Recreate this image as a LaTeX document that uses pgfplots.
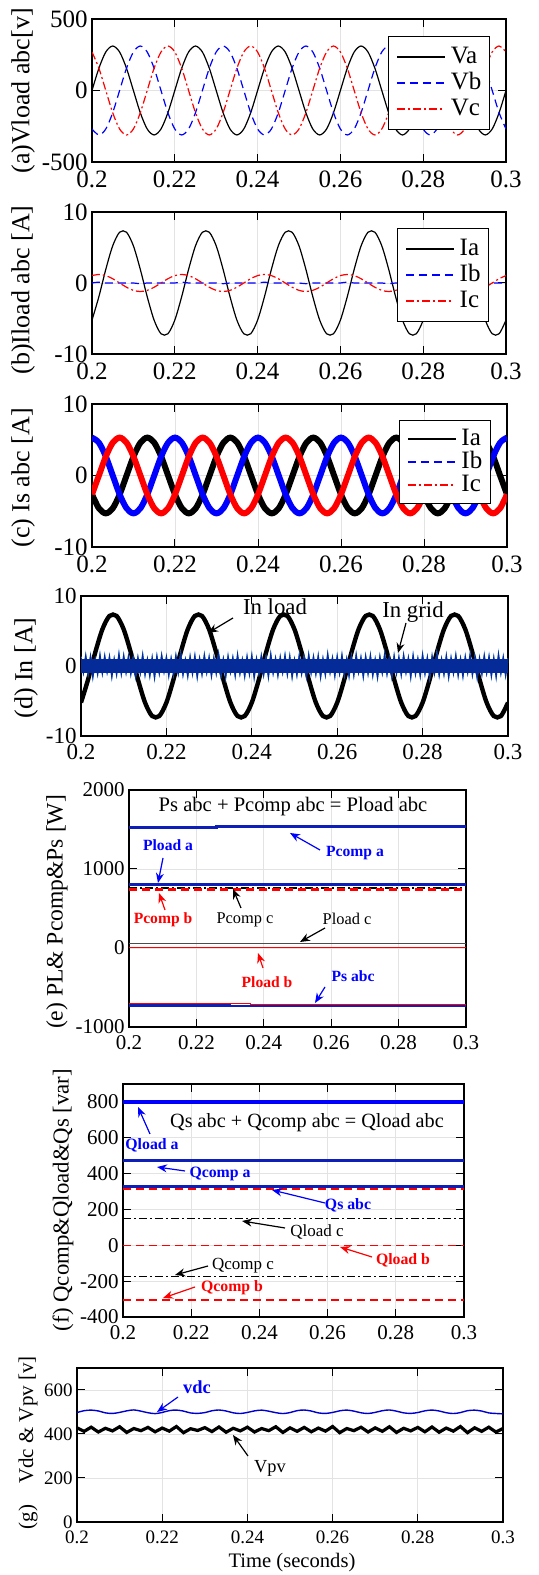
\documentclass[border=0pt]{standalone}
\usepackage{fontspec}
\setmainfont{Liberation Serif}
\usepackage{pgfplots}
\usepackage{pgfplotstable}
\pgfplotsset{compat=1.18}
\usetikzlibrary{arrows.meta}
\newcommand\fs[1]{\fontsize{#1}{#1}\selectfont}
\definecolor{mblue}{rgb}{0,0,1}
\definecolor{mred}{rgb}{1,0,0}
\definecolor{navy}{rgb}{0.05,0.12,0.72}
\definecolor{gridcore}{rgb}{0.02,0.17,0.60}
\definecolor{gridedge}{rgb}{0.25,0.58,0.92}

% x is electrical angle in degrees: 0..1800 <-> 0.2..0.3 s
\pgfplotstableread{
x Va Vb Vc
0 0 -269.3 269.3
30 155.5 -311 155.5
60 269.3 -269.3 0
90 311 -155.5 -155.5
120 269.3 0 -269.3
150 155.5 155.5 -311
180 0 269.3 -269.3
210 -155.5 311 -155.5
240 -269.3 269.3 0
270 -311 155.5 155.5
300 -269.3 0 269.3
330 -155.5 -155.5 311
360 0 -269.3 269.3
390 155.5 -311 155.5
420 269.3 -269.3 0
450 311 -155.5 -155.5
480 269.3 0 -269.3
510 155.5 155.5 -311
540 0 269.3 -269.3
570 -155.5 311 -155.5
600 -269.3 269.3 0
630 -311 155.5 155.5
660 -269.3 0 269.3
690 -155.5 -155.5 311
720 0 -269.3 269.3
750 155.5 -311 155.5
780 269.3 -269.3 0
810 311 -155.5 -155.5
840 269.3 0 -269.3
870 155.5 155.5 -311
900 0 269.3 -269.3
930 -155.5 311 -155.5
960 -269.3 269.3 0
990 -311 155.5 155.5
1020 -269.3 0 269.3
1050 -155.5 -155.5 311
1080 0 -269.3 269.3
1110 155.5 -311 155.5
1140 269.3 -269.3 0
1170 311 -155.5 -155.5
1200 269.3 0 -269.3
1230 155.5 155.5 -311
1260 0 269.3 -269.3
1290 -155.5 311 -155.5
1320 -269.3 269.3 0
1350 -311 155.5 155.5
1380 -269.3 0 269.3
1410 -155.5 -155.5 311
1440 0 -269.3 269.3
1470 155.5 -311 155.5
1500 269.3 -269.3 0
1530 311 -155.5 -155.5
1560 269.3 0 -269.3
1590 155.5 155.5 -311
1620 0 269.3 -269.3
1650 -155.5 311 -155.5
1680 -269.3 269.3 0
1710 -311 155.5 155.5
1740 -269.3 0 269.3
1770 -155.5 -155.5 311
1800 0 -269.3 269.3
}\tabA

\pgfplotstableread{
x Ia Ib Ic
0 -5.23 0 1.04
30 -1.92 0.12 1.2
60 1.92 0 1.04
90 5.23 0 0.6
120 7.15 0 0
150 7.15 0 -0.6
180 5.23 0 -1.04
210 1.92 -0.1 -1.2
240 -1.92 0 -1.04
270 -5.23 0 -0.6
300 -7.15 0 0
330 -7.15 0 0.6
360 -5.23 0 1.04
390 -1.92 0.12 1.2
420 1.92 0 1.04
450 5.23 0 0.6
480 7.15 0 0
510 7.15 0 -0.6
540 5.23 0 -1.04
570 1.92 -0.1 -1.2
600 -1.92 0 -1.04
630 -5.23 0 -0.6
660 -7.15 0 0
690 -7.15 0 0.6
720 -5.23 0 1.04
750 -1.92 0.12 1.2
780 1.92 0 1.04
810 5.23 0 0.6
840 7.15 0 0
870 7.15 0 -0.6
900 5.23 0 -1.04
930 1.92 -0.1 -1.2
960 -1.92 0 -1.04
990 -5.23 0 -0.6
1020 -7.15 0 0
1050 -7.15 0 0.6
1080 -5.23 0 1.04
1110 -1.92 0.12 1.2
1140 1.92 0 1.04
1170 5.23 0 0.6
1200 7.15 0 0
1230 7.15 0 -0.6
1260 5.23 0 -1.04
1290 1.92 -0.1 -1.2
1320 -1.92 0 -1.04
1350 -5.23 0 -0.6
1380 -7.15 0 0
1410 -7.15 0 0.6
1440 -5.23 0 1.04
1470 -1.92 0.12 1.2
1500 1.92 0 1.04
1530 5.23 0 0.6
1560 7.15 0 0
1590 7.15 0 -0.6
1620 5.23 0 -1.04
1650 1.92 -0.1 -1.2
1680 -1.92 0 -1.04
1710 -5.23 0 -0.6
1740 -7.15 0 0
1770 -7.15 0 0.6
1800 -5.23 0 1.04
}\tabB

\pgfplotstableread{
x Ia Ib Ic
0 -2.65 5.3 -2.65
30 -4.59 4.59 0
60 -5.3 2.65 2.65
90 -4.59 0 4.59
120 -2.65 -2.65 5.3
150 0 -4.59 4.59
180 2.65 -5.3 2.65
210 4.59 -4.59 0
240 5.3 -2.65 -2.65
270 4.59 0 -4.59
300 2.65 2.65 -5.3
330 0 4.59 -4.59
360 -2.65 5.3 -2.65
390 -4.59 4.59 0
420 -5.3 2.65 2.65
450 -4.59 0 4.59
480 -2.65 -2.65 5.3
510 0 -4.59 4.59
540 2.65 -5.3 2.65
570 4.59 -4.59 0
600 5.3 -2.65 -2.65
630 4.59 0 -4.59
660 2.65 2.65 -5.3
690 0 4.59 -4.59
720 -2.65 5.3 -2.65
750 -4.59 4.59 0
780 -5.3 2.65 2.65
810 -4.59 0 4.59
840 -2.65 -2.65 5.3
870 0 -4.59 4.59
900 2.65 -5.3 2.65
930 4.59 -4.59 0
960 5.3 -2.65 -2.65
990 4.59 0 -4.59
1020 2.65 2.65 -5.3
1050 0 4.59 -4.59
1080 -2.65 5.3 -2.65
1110 -4.59 4.59 0
1140 -5.3 2.65 2.65
1170 -4.59 0 4.59
1200 -2.65 -2.65 5.3
1230 0 -4.59 4.59
1260 2.65 -5.3 2.65
1290 4.59 -4.59 0
1320 5.3 -2.65 -2.65
1350 4.59 0 -4.59
1380 2.65 2.65 -5.3
1410 0 4.59 -4.59
1440 -2.65 5.3 -2.65
1470 -4.59 4.59 0
1500 -5.3 2.65 2.65
1530 -4.59 0 4.59
1560 -2.65 -2.65 5.3
1590 0 -4.59 4.59
1620 2.65 -5.3 2.65
1650 4.59 -4.59 0
1680 5.3 -2.65 -2.65
1710 4.59 0 -4.59
1740 2.65 2.65 -5.3
1770 0 4.59 -4.59
1800 -2.65 5.3 -2.65
}\tabC

% In grid (noise band), x in degrees
\pgfplotstableread[row sep=\\]{
x y\\
0 1.1\\ 10 -0.8\\ 20 1.3\\ 30 -0.9\\ 40 1.2\\ 50 -1.4\\ 60 0.7\\ 70 -1.0\\ 80 1.4\\ 90 -0.9\\
100 1.25\\ 110 -0.75\\ 120 1.15\\ 130 -1.35\\ 140 0.85\\ 150 -1.05\\ 160 1.5\\ 170 -0.95\\ 180 1.3\\ 190 -0.8\\
200 1.2\\ 210 -1.0\\ 220 0.9\\ 230 -1.3\\ 240 1.05\\ 250 -0.85\\ 260 1.4\\ 270 -1.1\\ 280 0.8\\ 290 -1.25\\
300 1.0\\ 310 -1.45\\ 320 1.2\\ 330 -0.9\\ 340 1.35\\ 350 -0.7\\ 360 1.1\\ 370 -1.2\\ 380 0.95\\ 390 -1.0\\
400 1.3\\ 410 -0.85\\ 420 1.45\\ 430 -1.1\\ 440 0.75\\ 450 -1.3\\ 460 1.15\\ 470 -0.95\\ 480 1.25\\ 490 -1.4\\
500 0.9\\ 510 -1.05\\ 520 1.35\\ 530 -0.8\\ 540 1.1\\ 550 -1.25\\ 560 1.0\\ 570 -0.9\\ 580 1.5\\ 590 -1.15\\
600 0.85\\ 610 -1.35\\ 620 1.2\\ 630 -0.75\\ 640 1.05\\ 650 -1.2\\ 660 1.4\\ 670 -0.95\\ 680 0.8\\ 690 -1.3\\
700 1.15\\ 710 -1.0\\ 720 1.3\\ 730 -1.45\\ 740 0.9\\ 750 -0.85\\ 760 1.25\\ 770 -1.1\\ 780 1.0\\ 790 -1.35\\
800 1.45\\ 810 -0.9\\ 820 0.95\\ 830 -1.2\\ 840 1.1\\ 850 -0.8\\ 860 1.35\\ 870 -1.05\\ 880 1.2\\ 890 -1.4\\
900 0.75\\ 910 -1.15\\ 920 1.3\\ 930 -0.95\\ 940 1.05\\ 950 -1.3\\ 960 1.4\\ 970 -0.85\\ 980 1.15\\ 990 -1.0\\
1000 1.25\\ 1010 -1.4\\ 1020 0.9\\ 1030 -1.1\\ 1040 1.5\\ 1050 -0.8\\ 1060 1.0\\ 1070 -1.25\\ 1080 1.2\\ 1090 -0.9\\
1100 1.35\\ 1110 -1.05\\ 1120 0.85\\ 1130 -1.3\\ 1140 1.1\\ 1150 -1.15\\ 1160 1.4\\ 1170 -0.75\\ 1180 1.05\\ 1190 -1.35\\
1200 1.2\\ 1210 -0.95\\ 1220 1.3\\ 1230 -1.2\\ 1240 0.8\\ 1250 -1.45\\ 1260 1.15\\ 1270 -0.85\\ 1280 1.45\\ 1290 -1.0\\
1300 0.95\\ 1310 -1.3\\ 1320 1.25\\ 1330 -0.9\\ 1340 1.1\\ 1350 -1.1\\ 1360 1.35\\ 1370 -0.8\\ 1380 1.0\\ 1390 -1.4\\
1400 1.3\\ 1410 -1.0\\ 1420 0.9\\ 1430 -1.25\\ 1440 1.4\\ 1450 -0.95\\ 1460 1.05\\ 1470 -1.35\\ 1480 1.2\\ 1490 -0.85\\
1500 1.5\\ 1510 -1.15\\ 1520 0.85\\ 1530 -1.05\\ 1540 1.25\\ 1550 -1.4\\ 1560 1.0\\ 1570 -0.9\\ 1580 1.35\\ 1590 -1.2\\
1600 0.9\\ 1610 -1.3\\ 1620 1.15\\ 1630 -0.8\\ 1640 1.4\\ 1650 -1.1\\ 1660 1.05\\ 1670 -1.45\\ 1680 0.95\\ 1690 -1.0\\
1700 1.3\\ 1710 -0.85\\ 1720 1.2\\ 1730 -1.25\\ 1740 1.0\\ 1750 -1.35\\ 1760 1.45\\ 1770 -0.9\\ 1780 1.1\\ 1790 -1.2\\
1800 0.9\\
}\tabD

\pgfplotstableread{
x vdc vpv
0 497.5 428
30 505.9 412
60 508.6 431
90 504.7 409
120 496.0 426
150 493.4 414
180 498.1 433
210 505.2 407
240 509.4 425
270 503.9 415
300 496.6 430
330 492.7 410
360 497.9 427
390 506.3 413
420 508.8 434
450 504.1 406
480 495.7 424
510 493.8 416
540 497.2 429
570 505.6 411
600 509.1 432
630 504.5 408
660 496.3 426
690 493.1 414
720 498.0 431
750 505.0 409
780 508.5 425
810 503.7 415
840 496.9 433
870 492.9 407
900 497.4 428
930 506.1 412
960 509.0 430
990 504.3 410
1020 495.9 427
1050 493.5 413
1080 497.8 434
1110 505.4 406
1140 508.7 425
1170 504.0 415
1200 496.4 431
1230 493.2 409
1260 498.2 428
1290 505.8 412
1320 509.2 433
1350 503.8 407
1380 496.1 426
1410 493.6 414
1440 497.6 430
1470 505.3 410
1500 508.9 432
1530 504.6 408
1560 496.7 427
1590 493.0 413
1620 497.3 434
1650 506.0 406
1680 508.4 428
1710 504.2 412
1740 495.8 431
1770 493.3 409
1800 491.5 425
}\tabG

\pgfplotsset{
  legend image code/.code={\draw[#1] (0pt,0pt) -- (24pt,0pt);},
  panel/.style={
    scale only axis, anchor=south west,
    xmin=0, xmax=1800,
    xtick={0,360,720,1080,1440,1800},
    xticklabels={\textrm{0.2},\textrm{0.22},\textrm{0.24},\textrm{0.26},\textrm{0.28},\textrm{0.3}},
    grid=major, major grid style={gray!22,line width=0.4pt},
    axis line style={line width=0.6pt},
    every tick/.style={black,line width=0.5pt},
    tick align=inside, major tick length=4pt,
    /pgf/number format/assume math mode=true,
    /pgf/number format/1000 sep={},
    scaled y ticks=false,
    ticklabel style={font=\fs{#1}},
    yticklabel style={inner sep=0pt, xshift=-2pt},
    xticklabel style={inner sep=0pt, yshift=-4pt},
    legend style={draw=black,line width=0.5pt,fill=white,font=\fs{12.5},
      anchor=north east, legend cell align=left,
      nodes={inner sep=0pt, text height=8.5pt, text depth=2pt},
      column sep=2.5pt, row sep=2.5pt,
      inner xsep=4pt, inner ysep=5pt},
  },
  dsh/.style={dash pattern=on 4pt off 2.5pt},
  dshdot/.style={dash pattern=on 4pt off 1.5pt on 1pt off 1.5pt},
}
\tikzset{
  arr/.style={-{Stealth[length=5pt,width=4pt]}, line width=0.6pt},
}

\begin{document}
\begin{tikzpicture}[x=0.5pt,y=0.5pt]
\useasboundingbox (0,0) rectangle (538,1575);

% (a)
\begin{axis}[panel=12.5, at={(46pt,706.5pt)}, width=207pt, height=71.5pt,
  ymin=-500, ymax=500, ytick={-500,0,500},
  legend style={at={(0.961,0.881)}}]
\addplot[black, line width=0.6pt, smooth] table[x=x,y=Va]{\tabA};
\addplot[mblue, line width=0.6pt, smooth, dsh] table[x=x,y=Vb]{\tabA};
\addplot[mred, line width=0.6pt, smooth, dshdot] table[x=x,y=Vc]{\tabA};
\legend{Va,Vb,Vc}
\end{axis}

% (b)
\begin{axis}[panel=12.5, at={(46pt,610.5pt)}, width=207pt, height=71pt,
  ymin=-10, ymax=10, ytick={-10,0,10},
  legend style={at={(0.959,0.887)}}]
\addplot[black, line width=0.6pt, smooth] table[x=x,y=Ia]{\tabB};
\addplot[mblue, line width=0.6pt, smooth, dsh] table[x=x,y=Ib]{\tabB};
\addplot[mred, line width=0.6pt, smooth, dshdot] table[x=x,y=Ic]{\tabB};
\legend{Ia,Ib,Ic}
\end{axis}

% (c)
\begin{axis}[panel=12.5, at={(46pt,514pt)}, width=207.5pt, height=71.5pt,
  ymin=-10, ymax=10, ytick={-10,0,10},
  legend style={at={(0.961,0.888)}, row sep=1pt, inner ysep=4pt}]
\addlegendimage{black, line width=0.6pt}
\addlegendimage{mblue, line width=0.6pt, dsh}
\addlegendimage{mred, line width=0.6pt, dshdot}
\addplot[black, line width=3pt, smooth, forget plot] table[x=x,y=Ia]{\tabC};
\addplot[mblue, line width=3pt, smooth, forget plot] table[x=x,y=Ib]{\tabC};
\addplot[mred, line width=3pt, smooth, forget plot] table[x=x,y=Ic]{\tabC};
\legend{Ia,Ib,Ic}
\end{axis}

% (d)
\begin{axis}[panel=11.5, at={(40.5pt,419.5pt)}, width=213.5pt, height=70pt,
  ymin=-10, ymax=10, ytick={-10,0,10}]
\addplot[black, line width=2.2pt, smooth] table[x=x,y=Ia]{\tabB};
\addplot[gridedge, line width=0.6pt, y filter/.expression={1.2*y}] table[x=x,y=y]{\tabD};
\addplot[gridcore, line width=0.8pt] table[x=x,y=y]{\tabD};
\addplot[draw=none, fill=gridcore] coordinates {(0,-1.0) (1800,-1.0) (1800,1.0) (0,1.0)} --cycle;
\end{axis}

% (e)
\begin{axis}[panel=10.5, at={(64.5pt,274pt)}, width=168.5pt, height=118.5pt,
  ymin=-1000, ymax=2000, ytick={-1000,0,1000,2000}]
\addplot[navy, line width=1.3pt] coordinates {(0,1522) (468,1522) (468,1535) (1800,1535)};
\addplot[navy, line width=1.6pt] coordinates {(0,800) (1800,800)};
\addplot[black, line width=0.8pt, dshdot] coordinates {(0,762) (1800,762)};
\addplot[mred, line width=1.2pt, dsh] coordinates {(0,740) (1800,740)};
\addplot[black!70, line width=0.6pt] coordinates {(0,58) (1800,58)};
\addplot[mred, line width=0.7pt] coordinates {(0,8) (1800,8)};
\addplot[mred, line width=0.6pt] coordinates {(0,-706) (648,-706) (648,-712) (1800,-712)};
\addplot[navy, line width=1.2pt] coordinates {(0,-726) (540,-726) (540,-738) (1800,-738)};
\end{axis}

% (f)
\begin{axis}[panel=10.5, at={(61.5pt,129pt)}, width=170.5pt, height=116.5pt,
  ymin=-400, ymax=900, ytick={-400,-200,0,200,400,600,800}]
\addplot[mblue, line width=1.6pt] coordinates {(0,800) (1800,800)};
\addplot[navy, line width=1.4pt] coordinates {(0,475) (1800,475)};
\addplot[mred, line width=1pt, dsh] coordinates {(0,314) (1800,314)};
\addplot[navy, line width=1.4pt] coordinates {(0,329) (1800,329)};
\addplot[black, line width=0.6pt, dshdot] coordinates {(0,148) (1800,148)};
\addplot[mred, line width=0.7pt, dsh] coordinates {(0,0) (1800,0)};
\addplot[black, line width=0.6pt, dshdot] coordinates {(0,-175) (1800,-175)};
\addplot[mred, line width=0.7pt, dsh] coordinates {(0,-306) (1800,-306)};
\end{axis}

% (g)
\begin{axis}[panel=9.5, at={(38.5pt,26.5pt)}, width=213pt, height=77pt,
  ymin=0, ymax=700, ytick={0,200,400,600}]
\addplot[mblue!80!black, line width=0.7pt, smooth] table[x=x,y=vdc]{\tabG};
\addplot[black, line width=1.6pt] table[x=x,y=vpv]{\tabG};
\end{axis}

% y labels
\node[rotate=90, font=\fs{13}] at (23,1484) {(a)Vload abc[v]};
\node[rotate=90, font=\fs{13}] at (23,1285) {(b)Iload abc [A]};
\node[rotate=90, font=\fs{13}] at (23,1097) {(c) Is abc [A]};
\node[rotate=90, font=\fs{13}] at (26,907) {(d) In [A]};
\node[rotate=90, font=\fs{11.8}] at (57,663) {(e) PL\& Pcomp\&Ps [W]};
\node[rotate=90, font=\fs{11.4}] at (63,375) {(f) Qcomp\&Qload\&Qs [var]};
\node[rotate=90, font=\fs{10.5}] at (28,155) {Vdc \& Vpv [v]};
\node[rotate=90, font=\fs{10.5}] at (28,58) {(g)};
\node[font=\fs{10.3}] at (292,12) {Time (seconds)};

% (d) annotations
\node[font=\fs{11.4}] at (275,968) {In load};
\draw[arr] (233,957) -- (208,942);
\node[font=\fs{11.4}] at (413,963) {In grid};
\draw[arr] (406,952) -- (398,922);

% (e) annotations
\node[font=\fs{10.3}] at (293,768) {Ps abc + Pcomp abc = Pload abc};
\node[font=\bfseries\fs{7.8}, text=mblue] at (168,730) {Pload a};
\draw[arr, mblue] (163,717) -- (158,692);
\node[font=\bfseries\fs{7.8}, text=mblue] at (355,722) {Pcomp a};
\draw[arr, mblue] (320,725) -- (290,742);
\node[font=\bfseries\fs{7.8}, text=mred] at (163,655) {Pcomp b};
\draw[arr, mred] (165,665) -- (159,682);
\node[font=\fs{8.2}] at (245,655) {Pcomp c};
\draw[arr] (241,667) -- (233,686);
\node[font=\fs{8.2}] at (347,656) {Pload c};
\draw[arr] (325,647) -- (300,633);
\node[font=\bfseries\fs{7.8}, text=mred] at (267,593) {Pload b};
\draw[arr, mred] (263,607) -- (258,622);
\node[font=\bfseries\fs{7.8}, text=mblue] at (353,599) {Ps abc};
\draw[arr, mblue] (325,588) -- (315,572);

% (f) annotations
\node[font=\fs{10.1}] at (307,452) {Qs abc + Qcomp abc = Qload abc};
\node[font=\bfseries\fs{7.9}, text=mblue] at (152,430) {Qload a};
\draw[arr, mblue] (150,441) -- (138,468);
\node[font=\bfseries\fs{7.9}, text=mblue] at (220,401) {Qcomp a};
\draw[arr, mblue] (185,404) -- (157,408);
\node[font=\bfseries\fs{7.9}, text=mblue] at (348,370) {Qs abc};
\draw[arr, mblue] (325,372) -- (272,385);
\node[font=\fs{8.5}] at (317,343) {Qload c};
\draw[arr] (285,347) -- (242,354);
\node[font=\bfseries\fs{7.9}, text=mred] at (403,315) {Qload b};
\draw[arr, mred] (372,318) -- (340,328);
\node[font=\fs{8.5}] at (243,309) {Qcomp c};
\draw[arr] (208,309) -- (175,300);
\node[font=\bfseries\fs{7.9}, text=mred] at (232,287) {Qcomp b};
\draw[arr, mred] (195,288) -- (163,277);

% (g) annotations
\node[font=\bfseries\fs{9.2}, text=mblue] at (197,188) {vdc};
\draw[arr, mblue] (178,178) -- (157,163);
\node[font=\fs{9.2}] at (270,107) {Vpv};
\draw[arr] (248,119) -- (233,140);
\end{tikzpicture}
\end{document}
